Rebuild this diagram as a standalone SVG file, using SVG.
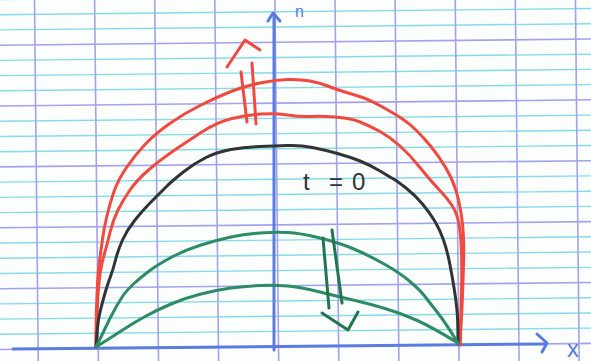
<svg xmlns="http://www.w3.org/2000/svg" width="591" height="361" viewBox="0 0 591 361">
<style>
.cy{stroke:#86dbe6;stroke-width:1.4}
.pu{stroke:#a3a3ea;stroke-width:1.6}
.ax{stroke:#5a7ce0;stroke-width:3;fill:none;stroke-linecap:round;stroke-linejoin:round}
.cv{fill:none;stroke-width:3;stroke-linecap:round;stroke-linejoin:round}
.red{stroke:#f04a40}
.blk{stroke:#303433}
.grn{stroke:#2b8c66}
.grn2{stroke:#23754f}
</style>
<rect width="591" height="361" fill="#fcfdfd"/>
<g id="grid" transform="rotate(-0.6)">
<g class="cy">
<line x1="-10" y1="-0.5" x2="610" y2="-0.5"/>
<line x1="-10" y1="14.7" x2="610" y2="14.7"/>
<line x1="-10" y1="29.9" x2="610" y2="29.9"/>
<line x1="-10" y1="60.4" x2="610" y2="60.4"/>
<line x1="-10" y1="75.6" x2="610" y2="75.6"/>
<line x1="-10" y1="90.8" x2="610" y2="90.8"/>
<line x1="-10" y1="121.3" x2="610" y2="121.3"/>
<line x1="-10" y1="136.5" x2="610" y2="136.5"/>
<line x1="-10" y1="151.7" x2="610" y2="151.7"/>
<line x1="-10" y1="182.1" x2="610" y2="182.1"/>
<line x1="-10" y1="197.4" x2="610" y2="197.4"/>
<line x1="-10" y1="212.6" x2="610" y2="212.6"/>
<line x1="-10" y1="243.0" x2="610" y2="243.0"/>
<line x1="-10" y1="258.2" x2="610" y2="258.2"/>
<line x1="-10" y1="273.5" x2="610" y2="273.5"/>
<line x1="-10" y1="303.9" x2="610" y2="303.9"/>
<line x1="-10" y1="319.1" x2="610" y2="319.1"/>
<line x1="-10" y1="334.3" x2="610" y2="334.3"/>
</g>
<g class="pu">
<line x1="-10" y1="45.2" x2="610" y2="45.2"/>
<line x1="-10" y1="106.0" x2="610" y2="106.0"/>
<line x1="-10" y1="166.9" x2="610" y2="166.9"/>
<line x1="-10" y1="227.8" x2="610" y2="227.8"/>
<line x1="-10" y1="288.7" x2="610" y2="288.7"/>
<line x1="-10" y1="349.5" x2="610" y2="349.5"/>
<line x1="34.5" y1="-10" x2="34.5" y2="380"/>
<line x1="94.6" y1="-10" x2="94.6" y2="380"/>
<line x1="154.7" y1="-10" x2="154.7" y2="380"/>
<line x1="214.8" y1="-10" x2="214.8" y2="380"/>
<line x1="274.9" y1="-10" x2="274.9" y2="380"/>
<line x1="335.0" y1="-10" x2="335.0" y2="380"/>
<line x1="395.1" y1="-10" x2="395.1" y2="380"/>
<line x1="455.2" y1="-10" x2="455.2" y2="380"/>
<line x1="515.3" y1="-10" x2="515.3" y2="380"/>
<line x1="575.4" y1="-10" x2="575.4" y2="380"/>
</g>
</g>
<g id="axes">
<path class="ax" d="M13,349 L546,344"/>
<path class="ax" stroke-width="2.5" d="M537,334 L547,343 L542,352"/>
<path class="ax" d="M274,350 L274,14"/>
<path class="ax" stroke-width="2.5" d="M268,21 L273,13 L280,21"/>
<text x="567" y="357" font-family="Liberation Sans, sans-serif" font-size="24" fill="#5a7ce0">x</text>
<text x="295" y="17" font-family="Liberation Sans, sans-serif" font-size="16" fill="#5a7ce0">n</text>
</g>
<g id="curves">
<path class="cv red" d="M96,347 L96,333.5 Q96,320 96.5,307.5 Q97,295 97.5,283.5 Q98,272 99.5,261 Q101,250 102.5,239 Q104,228 107,215.5 Q110,203 114,191.5 Q118,180 126.5,167.5 Q135,155 145.5,144 Q156,133 170.5,123 Q185,113 201,105 Q217,97 231,91.5 Q245,86 260,83 Q275,80 287.5,79.5 Q300,79 310,81 Q320,83 327.5,86 Q335,89 345,92 Q355,95 362.5,97.5 Q370,100 382.5,107 Q395,114 402.5,119 Q410,124 416.5,130.5 Q423,137 430.5,146 Q438,155 445,166.5 Q452,178 455.5,189 Q459,200 461,212.5 Q463,225 463.5,237.5 Q464,250 463.5,265 Q463,280 462.5,295 Q462,310 460,345"/>
<path class="cv red" d="M96,347 L96.5,328.5 Q97,310 98,295 Q99,280 100.5,271 Q102,262 104.5,253.5 Q107,245 110,232.5 Q113,220 118,210 Q123,200 130,190 Q137,180 148.5,170 Q160,160 172.5,151.5 Q185,143 201,132.5 Q217,122 232,118.5 Q247,115 261,114 Q275,113 287.5,115 Q300,117 310,116.5 Q320,116 335,117 Q350,118 360,122 Q370,126 380,131.5 Q390,137 400,146 Q410,155 420,167.5 Q430,180 438.5,189 Q447,198 452,205.5 Q457,213 459,224 Q461,235 461.5,252.5 Q462,270 461.5,290 Q461,310 460,345"/>
<path class="cv blk" d="M96,347 L97,333.5 Q98,320 100.5,310 Q103,300 105.5,291.5 Q108,283 110.5,276.5 Q113,270 115.5,260 Q118,250 122.5,240 Q127,230 135,220 Q143,210 150.5,202.5 Q158,195 165.5,187.5 Q173,180 184,171.5 Q195,163 206,157.5 Q217,152 231,149.5 Q245,147 260,146.5 Q275,146 287.5,145.5 Q300,145 312.5,147.5 Q325,150 337.5,153.5 Q350,157 360,161 Q370,165 380,171 Q390,177 393.5,179 Q397,181 406,188 Q415,195 422.5,204 Q430,213 435,221.5 Q440,230 443.5,240 Q447,250 449.5,262.5 Q452,275 454,287.5 Q456,300 457,310 Q458,320 458,343"/>
<path class="cv grn" d="M96,347 L99,341 Q102,335 106,326.5 Q110,318 115,309 Q120,300 123.5,295 Q127,290 133.5,284 Q140,278 148.5,271.5 Q157,265 171,257.5 Q185,250 201,245 Q217,240 231,237 Q245,234 260,233 Q275,232 287.5,232.5 Q300,233 320,238 Q340,243 355,249.5 Q370,256 385,264.5 Q400,273 410,281.5 Q420,290 425,296.5 Q430,303 437.5,312.5 Q445,322 458,343"/>
<path class="cv grn" d="M96,347 L105.5,341 Q115,335 125,328.5 Q135,322 146,316 Q157,310 171,304 Q185,298 201,294 Q217,290 231,288 Q245,286 260,285.5 Q275,285 287.5,286 Q300,287 320,292 Q340,297 355,300.5 Q370,304 385,308.5 Q400,313 415,319.5 Q430,326 458,343"/>
</g>
<g id="arrow-up" class="cv red" stroke-width="2.5">
<path d="M241,72 L247,122"/>
<path d="M252,63 L256,124"/>
<path d="M227,67 L245,40 L260,50"/>
</g>
<g id="arrow-down" class="cv grn2" stroke-width="2.5">
<path d="M323,238 L329,308"/>
<path d="M332,230 L342,303"/>
<path d="M322,313 L348,330 L358,312"/>
</g>
<g id="label">
<text x="303 316 329 343 352" y="190" font-family="Liberation Sans, sans-serif" font-size="24" fill="#2f3332">t = 0</text>
</g>
</svg>
